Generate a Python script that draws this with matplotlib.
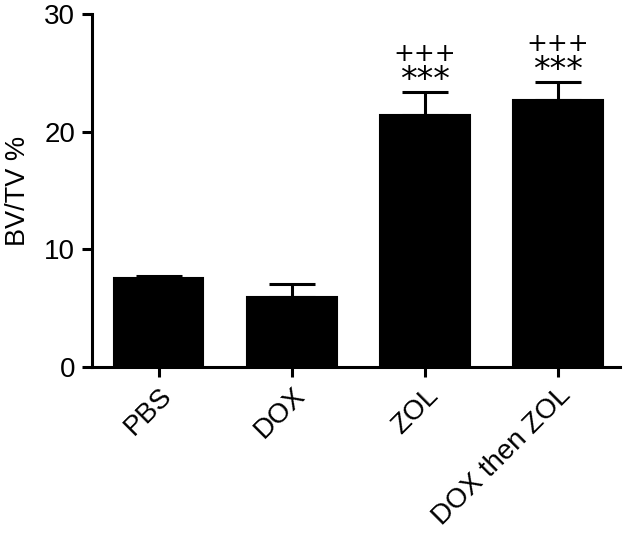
import matplotlib
matplotlib.use("Agg")
import matplotlib.pyplot as plt

categories = ["PBS", "DOX", "ZOL", "DOX then ZOL"]
means = [7.6, 5.97, 21.4, 22.68]
errors = [0.13, 1.06, 1.98, 1.56]
stars = ["", "", "***", "***"]
plus = ["", "", "+++", "+++"]
yticks = [0, 10, 20, 30]

plt.rcParams['font.family'] = ['Liberation Sans', 'DejaVu Sans']

fig = plt.figure(figsize=(6.25, 5.36), dpi=100)
ax = fig.add_axes([0.147, 0.315, 0.845, 0.659])

x = list(range(len(categories)))
ax.bar(x, means, width=0.67, color='black', edgecolor='black', linewidth=1.5, zorder=2)
ax.errorbar(x, means, yerr=[[0]*len(means), errors], fmt='none', ecolor='black',
            elinewidth=2.2, capsize=16.5, capthick=2.2, zorder=3)

for xi, m, e, s, p in zip(x, means, errors, stars, plus):
    if s:
        ax.annotate(s, (xi, m + e), xytext=(0, -4), textcoords='offset points',
                    ha='center', va='bottom', fontsize=24, family='DejaVu Sans')
        ax.annotate(p, (xi, m + e), xytext=(0, 18.5), textcoords='offset points',
                    ha='center', va='bottom', fontsize=18, family='DejaVu Sans')

ax.set_ylim(0, 30)
ax.set_xlim(-0.504, 3.466)
ax.set_yticks(yticks)
ax.set_yticklabels([str(t) for t in yticks], fontsize=20)
ax.set_xticks(x)
ax.set_xticklabels(categories, fontsize=20, rotation=45, ha='right', rotation_mode='anchor')
ax.set_ylabel("BV/TV %", fontsize=19.5)
ax.yaxis.set_label_coords(-0.116, 0.5)

for side in ['top', 'right']:
    ax.spines[side].set_visible(False)
for side in ['left', 'bottom']:
    ax.spines[side].set_linewidth(2.2)
ax.tick_params(axis='both', width=2.2, length=7, colors='black')
ax.tick_params(axis='x', pad=4)
ax.tick_params(axis='y', pad=5)

fig.savefig("out.png", dpi=100)
